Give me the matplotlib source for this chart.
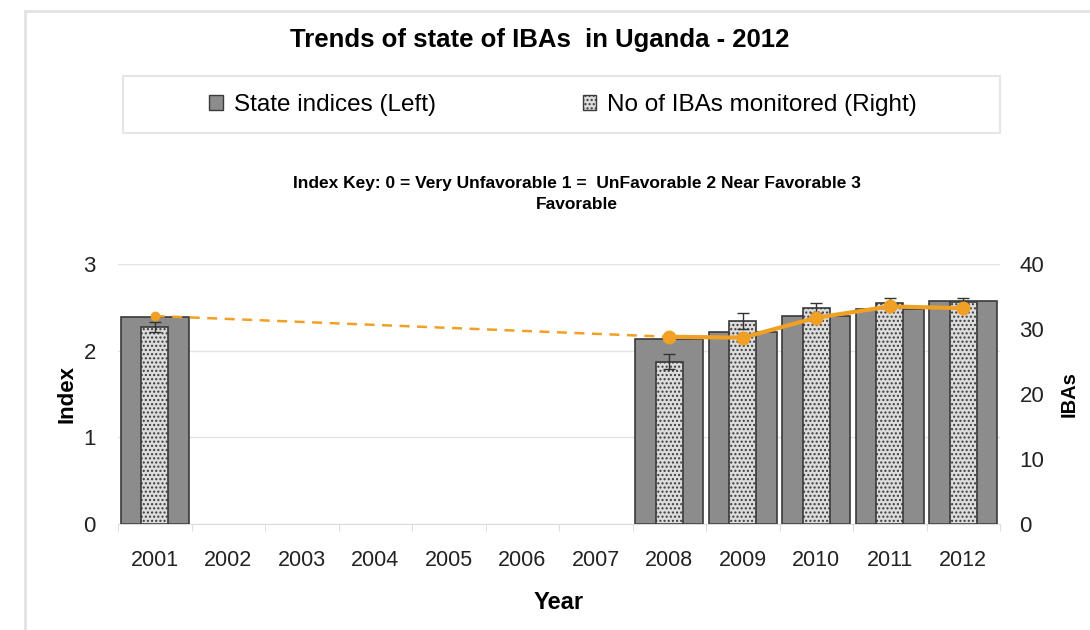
import numpy as np
import matplotlib
matplotlib.use("Agg")
import matplotlib.pyplot as plt
from matplotlib.patches import Rectangle, Patch
from matplotlib.lines import Line2D

plt.rcParams['font.family'] = ['Liberation Sans', 'DejaVu Sans']

years = ['2001', '2002', '2003', '2004', '2005', '2006', '2007',
         '2008', '2009', '2010', '2011', '2012']
state_index = [2.39, np.nan, np.nan, np.nan, np.nan, np.nan, np.nan,
               2.13, 2.22, 2.40, 2.48, 2.57]
ibas_monitored = [30.3, np.nan, np.nan, np.nan, np.nan, np.nan, np.nan,
                  25.0, 31.2, 33.2, 34.0, 34.2]
ibas_err = [0.8, 0, 0, 0, 0, 0, 0, 1.1, 1.2, 0.8, 0.7, 0.6]
trend = [2.40, np.nan, np.nan, np.nan, np.nan, np.nan, np.nan,
         2.16, 2.15, 2.38, 2.51, 2.49]

title = 'Trends of state of IBAs  in Uganda - 2012'
key_text = 'Index Key: 0 = Very Unfavorable 1 =  UnFavorable 2 Near Favorable 3\nFavorable'

W, H = 1090, 630
fig = plt.figure(figsize=(W / 100, H / 100), dpi=100)

ax = fig.add_axes([118 / W, 1 - 524 / H, 882 / W, 260 / H])
ax2 = ax.twinx()

x = np.arange(len(years))
ax.bar(x, state_index, width=0.92, color='#8c8c8c', edgecolor='#3a3a3a',
       linewidth=1.2, zorder=2)
ax2.bar(x, ibas_monitored, width=0.37, color='#dcdcdc', edgecolor='#3a3a3a',
        hatch='....', linewidth=1.2, zorder=3)
valid = ~np.isnan(np.array(ibas_monitored))
ax2.errorbar(x[valid], np.array(ibas_monitored)[valid],
             yerr=np.array(ibas_err)[valid], fmt='none', ecolor='#333333',
             elinewidth=1, capsize=4, zorder=4)

tr = np.array(trend)
orange = '#f0a024'
ax2.set_zorder(ax.get_zorder() + 1)
ax2.patch.set_visible(False)
ax3 = ax.twinx()
ax3.set_ylim(0, 3)
ax3.axis('off')
ax3.set_zorder(ax2.get_zorder() + 1)
ax3.plot([x[0], x[7]], [tr[0], tr[7]], linestyle=(0, (4, 3)), color=orange,
         linewidth=1.8)
ax3.plot(x[7:], tr[7:], color=orange, linewidth=3, marker='o', markersize=9)
ax3.plot([x[0]], [tr[0]], color=orange, marker='o', markersize=6, linestyle='none')

ax.set_xlim(-0.5, len(years) - 0.5)
ax.set_ylim(0, 3)
ax2.set_ylim(0, 40)
ax.set_yticks([0, 1, 2, 3])
ax2.set_yticks([0, 10, 20, 30, 40])
ax.set_xticks(x)
ax.set_xticklabels(years)
ax.set_xticks(np.arange(-0.5, len(years), 1), minor=True)
ax.tick_params(axis='x', which='major', length=0, pad=19, labelsize=15.5,
               colors='#222222')
ax.tick_params(axis='x', which='minor', length=5, color='#d8d8d8')
ax.tick_params(axis='y', length=0, pad=16, labelsize=16, colors='#222222')
ax2.tick_params(axis='y', length=0, pad=14, labelsize=16, colors='#222222')

ax.grid(axis='y', color='#e4e4e4', linewidth=1, zorder=0)
ax.set_axisbelow(True)
for a in (ax, ax2):
    for s in ('top', 'left', 'right'):
        a.spines[s].set_visible(False)
    a.spines['bottom'].set_color('#dcdcdc')
ax2.spines['bottom'].set_visible(False)

ax.set_xlabel('Year', fontsize=17, fontweight='bold', labelpad=14)
ax.set_ylabel('Index', fontsize=16, fontweight='bold', labelpad=4)
ax2.set_ylabel('IBAs', fontsize=14.5, fontweight='bold', labelpad=11)

fig.text(540 / W, 1 - 40 / H, title, ha='center', va='center', fontsize=18.5,
         fontweight='bold')
fig.text(577 / W, 1 - 194 / H, key_text, ha='center', va='center', fontsize=12.5,
         fontweight='bold', linespacing=1.5)

# legend box
fig.patches.append(Rectangle((123 / W, 1 - 133 / H), 877 / W, 57 / H,
                             transform=fig.transFigure, facecolor='none',
                             edgecolor='#e6e6e6', linewidth=1.5))
handles = [Patch(facecolor='#8c8c8c', edgecolor='#3a3a3a'),
           Patch(facecolor='#dcdcdc', edgecolor='#3a3a3a', hatch='....')]
fig.legend(handles, ['State indices (Left)', 'No of IBAs monitored (Right)'],
           loc='center', bbox_to_anchor=(563 / W, 1 - 105 / H), ncol=2,
           frameon=False, fontsize=17.5, handlelength=0.55, handleheight=0.55,
           handletextpad=0.45, columnspacing=6.05)

# outer border
fig.add_artist(Line2D([25 / W, 25 / W], [0, 1 - 11 / H], transform=fig.transFigure,
                      color='#e2e2e2', linewidth=2))
fig.add_artist(Line2D([25 / W, 1], [1 - 11 / H, 1 - 11 / H], transform=fig.transFigure,
                      color='#e2e2e2', linewidth=2))

fig.savefig('out.png', dpi=100)
